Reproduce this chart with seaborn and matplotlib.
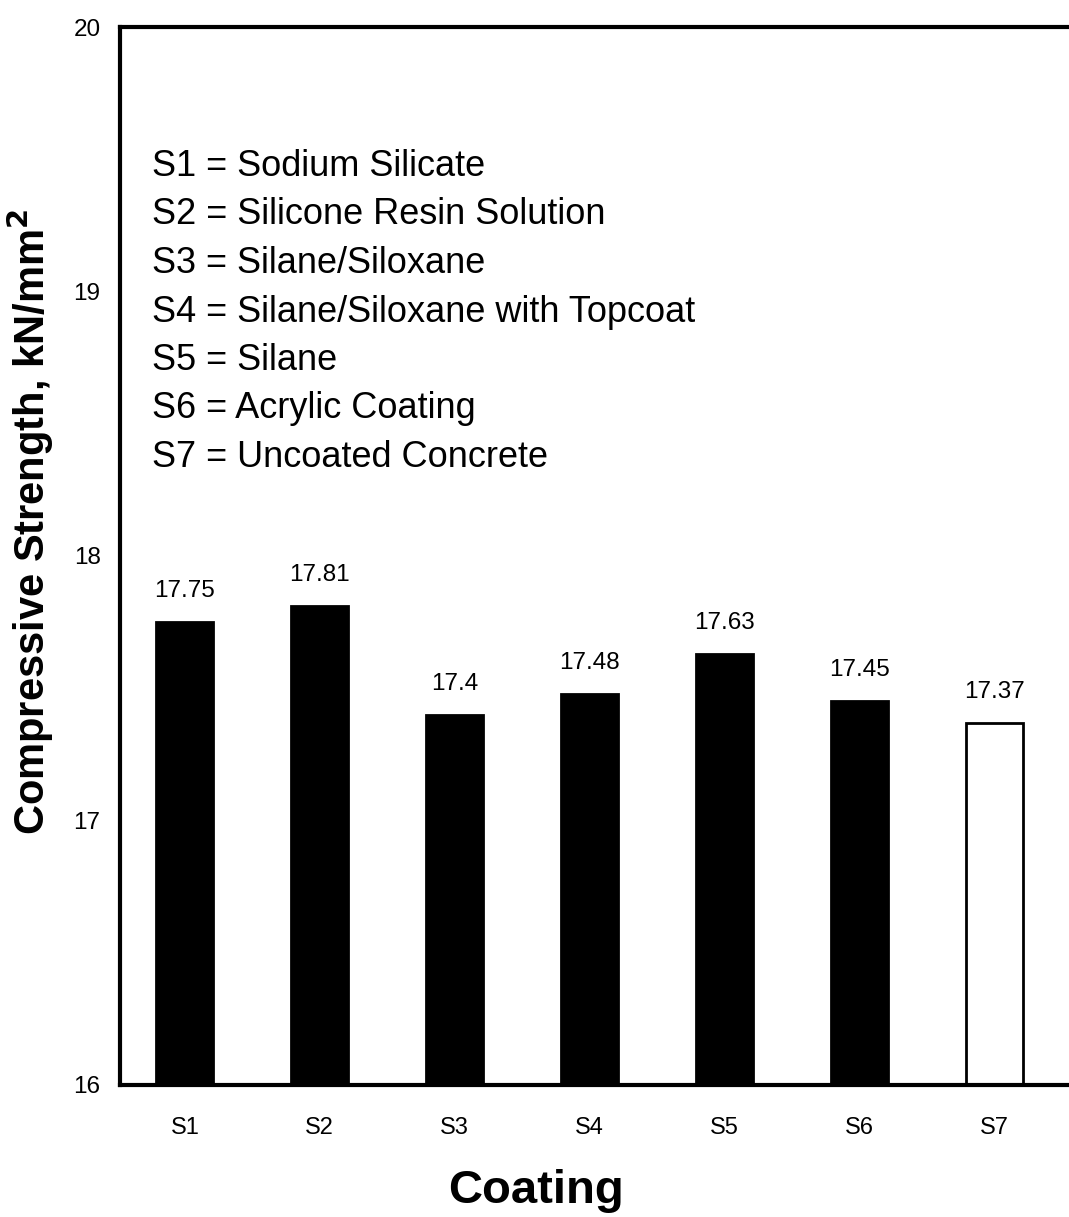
import matplotlib
matplotlib.use("Agg")
import matplotlib.pyplot as plt
import seaborn as sns

# Compressive strength per coating
coatings = ["S1", "S2", "S3", "S4", "S5", "S6", "S7"]
strength = [17.75, 17.81, 17.4, 17.48, 17.63, 17.45, 17.37]
value_labels = ["17.75", "17.81", "17.4", "17.48", "17.63", "17.45", "17.37"]
key_lines = [
    "S1 = Sodium Silicate",
    "S2 = Silicone Resin Solution",
    "S3 = Silane/Siloxane",
    "S4 = Silane/Siloxane with Topcoat",
    "S5 = Silane",
    "S6 = Acrylic Coating",
    "S7 = Uncoated Concrete",
]
y_ticks = [16, 17, 18, 19, 20]

sns.set_style("white")
plt.rcParams["font.family"] = ["Liberation Sans", "DejaVu Sans"]
plt.rcParams.update({
    "text.color": "black",
    "axes.labelcolor": "black",
    "xtick.color": "black",
    "ytick.color": "black",
})

fig = plt.figure(figsize=(10.69, 12.17), dpi=100)
ax = fig.add_axes([0.1123, 0.1085, 0.8877, 0.8693])

sns.barplot(x=coatings, y=strength, color="black", width=0.42,
            saturation=1, ax=ax, edgecolor="black", linewidth=2)
ax.patches[-1].set_facecolor("white")

for i, (v, lab) in enumerate(zip(strength, value_labels)):
    ax.annotate(lab, (i, v), xytext=(0, 18), textcoords="offset points",
                ha="center", va="baseline", fontsize=17.5)

ax.set_ylim(16, 20)
ax.set_xlim(-0.48, 6.55)
ax.set_yticks(y_ticks)
ax.set_yticklabels([str(t) for t in y_ticks])
ax.tick_params(axis="x", labelsize=17, pad=23, length=0)
ax.tick_params(axis="y", labelsize=17.5, pad=14, length=0)

for side in ["left", "top", "bottom"]:
    ax.spines[side].set_linewidth(3)
    ax.spines[side].set_color("black")
ax.spines["right"].set_visible(False)

ax.set_xlabel("Coating", fontsize=34, fontweight="bold")
ax.xaxis.set_label_coords(0.438, -0.079)
ax.set_ylabel("Compressive Strength, kN/mm$^\\mathbf{2}$", fontsize=30,
              fontweight="bold")
ax.yaxis.set_label_coords(-0.068, 0.532)

for k, line in enumerate(key_lines):
    fig.text(152 / 1069, 1 - (176 + 48.5 * k) / 1217, line,
             fontsize=26, ha="left", va="baseline")

fig.savefig("out.png", dpi=100)
